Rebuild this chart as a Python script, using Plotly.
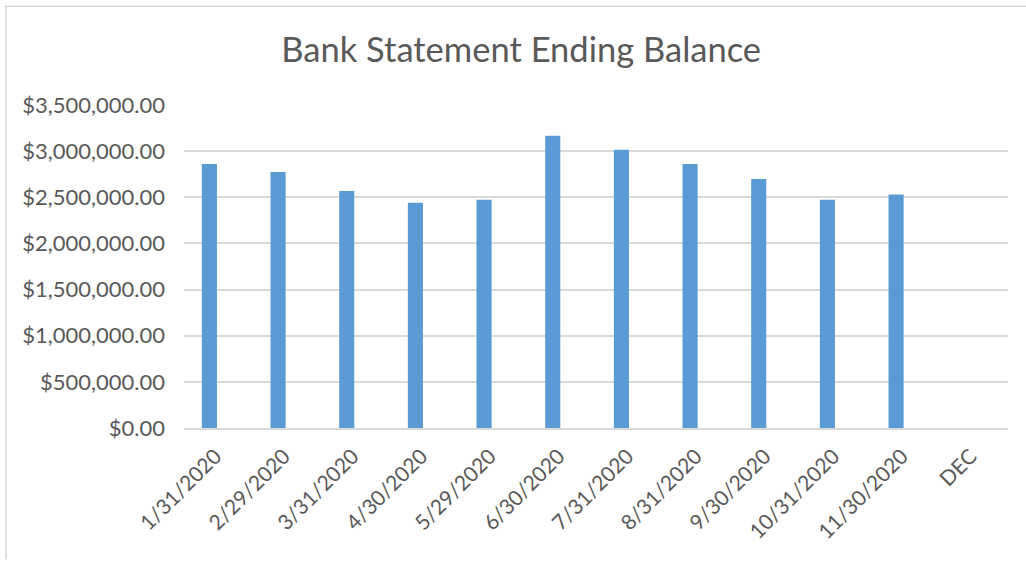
import plotly.graph_objects as go

categories = ["1/31/2020", "2/29/2020", "3/31/2020", "4/30/2020", "5/29/2020", "6/30/2020",
              "7/31/2020", "8/31/2020", "9/30/2020", "10/31/2020", "11/30/2020", "DEC"]
balances = [2862000, 2773000, 2567000, 2440000, 2473000, 3166000,
            3014000, 2862000, 2697000, 2473000, 2530000, None]
y_ticks = [0, 500000, 1000000, 1500000, 2000000, 2500000, 3000000, 3500000]
y_tick_labels = ["$0.00", "$500,000.00", "$1,000,000.00", "$1,500,000.00", "$2,000,000.00",
                 "$2,500,000.00", "$3,000,000.00", "$3,500,000.00"]

W, H = 1026, 561
L, R, T, B = 184, 18, 105, 132.5
pw, ph = W - L - R, H - T - B


def px_x(x):
    return (x - L) / pw


def px_y(y):
    return (H - B - y) / ph


fig = go.Figure(go.Bar(x=categories, y=balances, marker=dict(color="#5B9BD5", line=dict(width=0)),
                       width=0.22))

font_family = "Lato, Open Sans, sans-serif"
border = dict(color="#D9D9D9", width=1.5)
fig.update_layout(
    width=W, height=H,
    margin=dict(l=L, r=R, t=T, b=B, autoexpand=False),
    paper_bgcolor="white", plot_bgcolor="white",
    title=dict(text="Bank Statement Ending Balance", x=0.508, xanchor="center", y=0.911, yanchor="middle",
               font=dict(family=font_family, size=34.5, color="#595959")),
    font=dict(family=font_family, color="#595959", size=22),
    showlegend=False,
    xaxis=dict(type="category", range=[-0.37, 11.63], tickangle=-45, showline=True, linecolor="#D9D9D9",
               linewidth=1.5, ticks="", automargin=False, ticklabelstandoff=6, ticklabelshift=6,
               tickfont=dict(size=21, color="#595959")),
    yaxis=dict(range=[0, 3500000], tickvals=y_ticks, ticktext=y_tick_labels, showgrid=True,
               gridcolor="#D9D9D9", gridwidth=1.5, zeroline=False, showline=False, ticks="",
               automargin=False, ticklabelstandoff=18, tickfont=dict(size=22, color="#595959")),
    shapes=[
        dict(type="line", xref="paper", yref="paper", x0=px_x(5), x1=px_x(W), y0=px_y(6), y1=px_y(6), line=border),
        dict(type="line", xref="paper", yref="paper", x0=px_x(6), x1=px_x(6), y0=px_y(6), y1=px_y(560), line=border),
    ],
)

fig.write_html("out.html", config={"displayModeBar": False},
               post_script="document.body.style.margin='0';document.body.style.overflow='hidden';")
